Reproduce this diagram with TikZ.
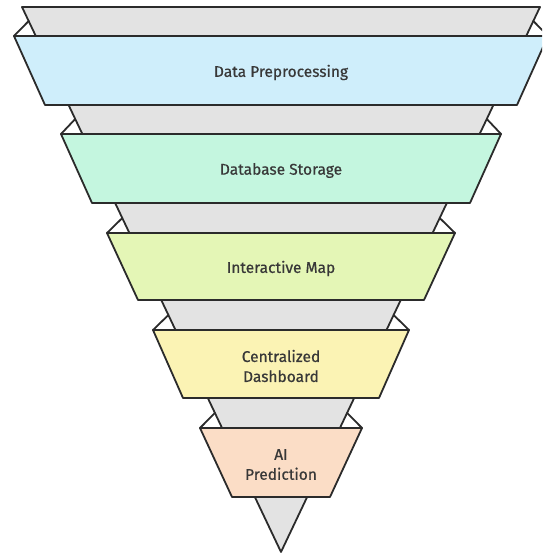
\documentclass[tikz,border=0pt]{standalone}
\usepackage{fontspec}
\setmainfont{Fira Sans}
\newfontfamily\bandfont[FakeBold=0.6]{Fira Sans}
\definecolor{inkline}{HTML}{2B2B2B}
\definecolor{inktext}{HTML}{383838}
\definecolor{funnelgray}{HTML}{E3E3E3}
\definecolor{bandblue}{HTML}{CFEEFB}
\definecolor{bandmint}{HTML}{C4F6DF}
\definecolor{bandlime}{HTML}{E4F6B6}
\definecolor{bandyellow}{HTML}{FBF3B4}
\definecolor{bandpeach}{HTML}{FBDDC6}

% One funnel band: name, top y, top half-width, bottom y, bottom half-width,
% fold-point y, fold-point half-width, fill colour, label
\newcommand\funnelband[9]{%
  \coordinate (#1-el) at ({281-#7},#6);
  \coordinate (#1-er) at ({281+#7},#6);
  \coordinate (#1-tl) at ({281-#3},#2);
  \coordinate (#1-tr) at ({281+#3},#2);
  \coordinate (#1-br) at ({281+#5},#4);
  \coordinate (#1-bl) at ({281-#5},#4);
  \draw[outline] (#1-tl) -- (#1-el);
  \draw[outline] (#1-tr) -- (#1-er);
  \path[outline,fill=#8] (#1-tl) -- (#1-tr) -- (#1-br) -- (#1-bl) -- cycle;
  \node[bandlabel] (#1) at (281,{(#2+#4)/2+2}) {#9};
}

\begin{document}
\begin{tikzpicture}[x=1pt,y=-1pt,
  outline/.style={draw=inkline,line width=1.8pt,line join=round,line cap=round},
  bandlabel/.style={font=\bandfont\fontsize{15.5}{20}\selectfont,text=inktext,align=center}]
\useasboundingbox (0,0) rectangle (542,555);
\clip (0,0) rectangle (542,555);

% the funnel behind the bands
\coordinate (ftl) at (22,7);
\coordinate (ftr) at (540,7);
\coordinate (apex) at (281,552);
\path[outline,fill=funnelgray] (ftl) -- (ftr) -- (apex) -- cycle;

% bands, top to bottom
\funnelband{prep}{36}{267}{105}{236}{21}{252.3}{bandblue}{Data Preprocessing}
\funnelband{store}{134}{220}{203}{189}{119}{205.8}{bandmint}{Database Storage}
\funnelband{map}{233}{174}{300}{143}{218}{158.7}{bandlime}{Interactive Map}
\funnelband{dash}{330}{128}{398}{98}{315}{112.6}{bandyellow}{Centralized\\Dashboard}
\funnelband{pred}{428}{81}{497}{49}{413}{66.1}{bandpeach}{AI\\Prediction}
\end{tikzpicture}
\end{document}
